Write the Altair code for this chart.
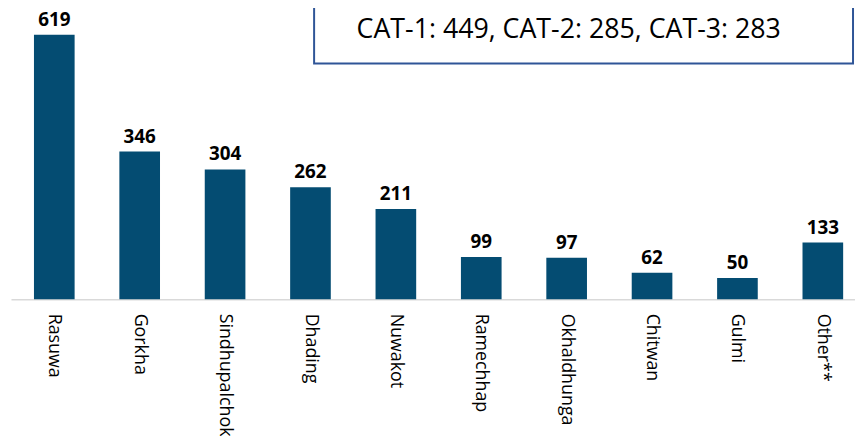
import altair as alt
import pandas as pd

districts = ["Rasuwa", "Gorkha", "Sindhupalchok", "Dhading", "Nuwakot",
             "Ramechhap", "Okhaldhunga", "Chitwan", "Gulmi", "Other**"]
counts = [619, 346, 304, 262, 211, 99, 97, 62, 50, 133]
cat_names = ["CAT-1", "CAT-2", "CAT-3"]
cat_values = [449, 285, 283]

df = pd.DataFrame({"district": districts, "count": counts})
box_text = ", ".join(f"{n}: {v}" for n, v in zip(cat_names, cat_values))

W, H = 852, 292

x = alt.X("district:N", sort=districts,
          scale=alt.Scale(paddingInner=0.524, paddingOuter=0.204, align=0.66),
          axis=alt.Axis(title=None, labelAngle=90, labelAlign="left", labelBaseline="middle",
                        labelFontSize=18, labelFont="Open Sans", labelColor="#000000",
                        labelPadding=14, ticks=False, domainColor="#D9D9D9", domainWidth=1.5,
                        labelLimit=200))
y = alt.Y("count:Q", scale=alt.Scale(domain=[0, 677], nice=False, zero=True), axis=None)

base = alt.Chart(df)
bars = base.mark_bar(color="#044C72").encode(x=x, y=y)
labels = base.mark_text(dy=-9, fontSize=19, fontWeight="bold", font="Open Sans",
                        color="#000000", baseline="alphabetic").encode(x=x, y=y, text="count:Q")

box = alt.Chart(pd.DataFrame({"t": [box_text]})).mark_rect(
    fill="white", stroke="#2F5597", strokeWidth=2
).encode(x=alt.value(306), x2=alt.value(850), y=alt.value(-10), y2=alt.value(54))
box_label = alt.Chart(pd.DataFrame({"t": [box_text]})).mark_text(
    fontSize=27, font="Open Sans", color="#000000", align="center", baseline="middle"
).encode(x=alt.value(563), y=alt.value(20), text="t:N")

chart = alt.layer(bars, labels, box, box_label).properties(
    width=W, height=H,
    autosize=alt.AutoSizeParams(type="none"),
    padding={"left": 3, "top": 0, "right": 0, "bottom": 136}
).configure_view(stroke=None)

chart.save("out.html", embed_options={"renderer": "svg", "actions": False})
